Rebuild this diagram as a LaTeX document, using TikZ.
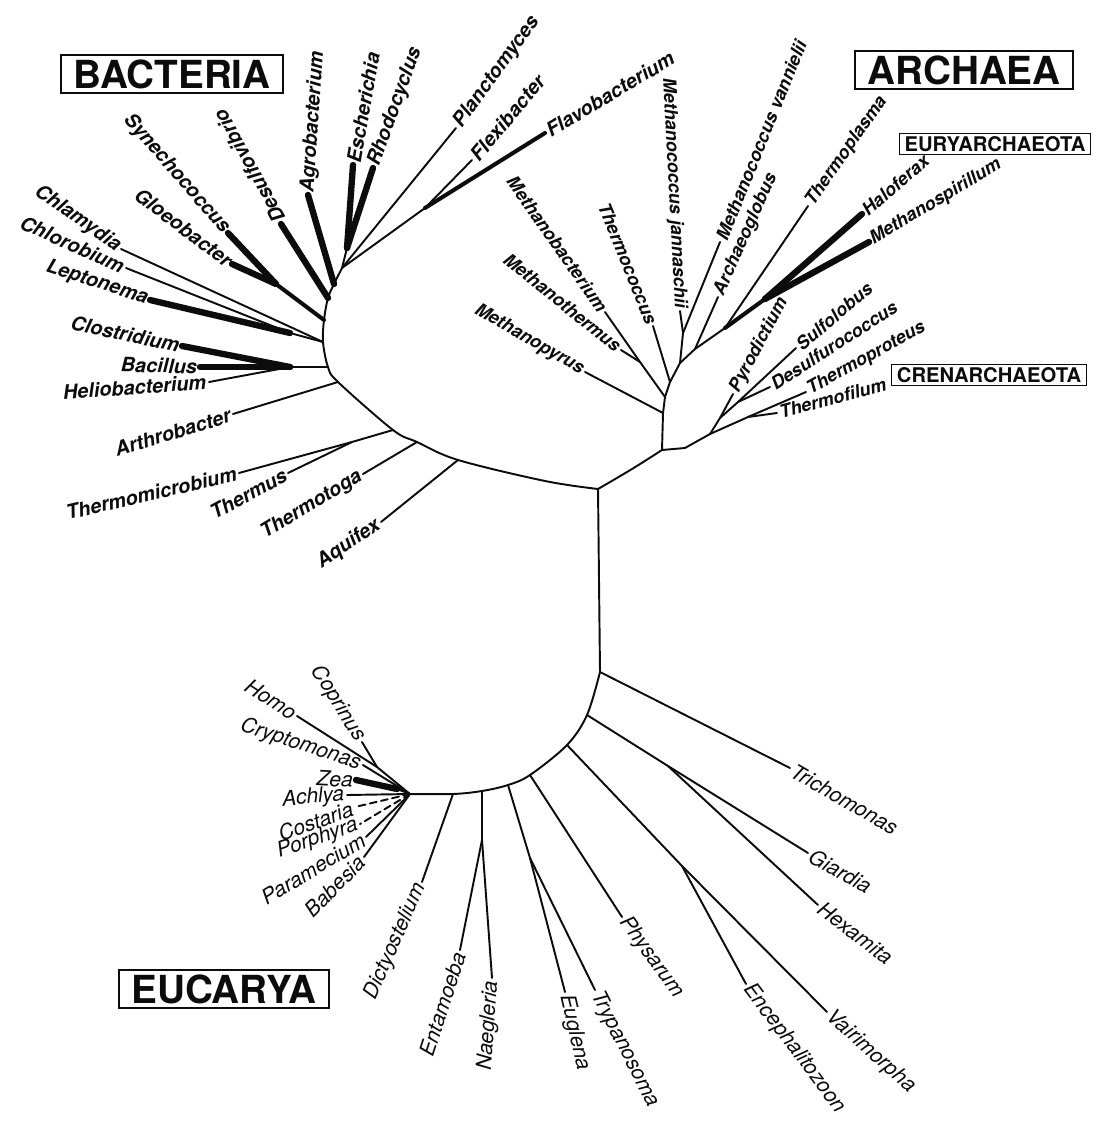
\documentclass[tikz,border=0pt]{standalone}
\usepackage{fontspec}
\setmainfont{TeX Gyre Heros}
\usepackage{xcolor}
\usepackage{tikz}
\definecolor{TreeInk}{RGB}{12, 12, 12}
\tikzset{
    branch/.style={draw=TreeInk, line width=1.1pt, line cap=round, line join=round},
    heavybranch/.style={branch, line width=3.6pt},
    midbranch/.style={branch, line width=2.3pt},
    brokenbranch/.style={branch, dash pattern=on 4pt off 2.5pt},
    taxon/.style={inner sep=1.5pt, text=TreeInk, font=\fontsize{11.3}{13}\selectfont\bfseries\itshape},
    archtaxon/.style={taxon, font=\fontsize{10.3}{12}\selectfont\bfseries\itshape},
    eutaxon/.style={inner sep=1.5pt, text=TreeInk, font=\fontsize{12}{14}\selectfont\itshape},
    domainbox/.style={draw=TreeInk, line width=0.9pt, inner xsep=7pt, inner ysep=2.5pt, text=TreeInk, font=\fontsize{22}{24}\selectfont\bfseries},
    cladebox/.style={draw=TreeInk, line width=0.8pt, inner xsep=3pt, inner ysep=1.5pt, text=TreeInk, font=\fontsize{11.5}{12}\selectfont\bfseries}
}

\begin{document}
\begin{tikzpicture}[x=0.2mm, y=-0.2mm]
    \path[use as bounding box] (0,0) rectangle (1099,1122);

    \coordinate (root) at (598,489);
    \coordinate (b0) at (545,481);
    \coordinate (b1) at (458,460);
    \coordinate (b2) at (417,442);
    \coordinate (b3) at (393,430);
    \coordinate (b4) at (338,382);
    \coordinate (b5) at (328,367);
    \coordinate (b6) at (323,342);
    \coordinate (b7) at (324,320);
    \coordinate (b8) at (328,298);
    \coordinate (b9) at (334,284);
    \coordinate (b10) at (342,268);
    \coordinate (bf) at (425,208);
    \coordinate (ber) at (347,248);
    \coordinate (bs) at (276,284);
    \coordinate (bl) at (290,333);
    \coordinate (bb) at (290,367);
    \coordinate (bt) at (352,442);

    \coordinate (t-plan) at (456,128);
    \coordinate (t-flex) at (472,160);
    \coordinate (t-flav) at (545,133);
    \coordinate (t-rho) at (373,168);
    \coordinate (t-esc) at (353,165);
    \coordinate (t-agr) at (308,195);
    \coordinate (t-des) at (281,224);
    \coordinate (t-syn) at (228,233);
    \coordinate (t-glo) at (232,264);
    \coordinate (t-chla) at (121,249);
    \coordinate (t-chlo) at (126,268);
    \coordinate (t-lep) at (150,300);
    \coordinate (t-clo) at (182,346);
    \coordinate (t-bac) at (200,367);
    \coordinate (t-hel) at (209,382);
    \coordinate (t-art) at (233,414);
    \coordinate (t-tmi) at (239,473);
    \coordinate (t-tms) at (288,473);
    \coordinate (t-tmt) at (363,474);
    \coordinate (t-aqu) at (381,522);

    \coordinate (ra) at (632,469);
    \coordinate (a0) at (662,450);
    \coordinate (a1) at (663,413);
    \coordinate (a2) at (665,397);
    \coordinate (a3) at (670,382);
    \coordinate (a4) at (680,363);
    \coordinate (aj) at (683,333);
    \coordinate (a5) at (695,349);
    \coordinate (a6) at (725,328);
    \coordinate (h) at (765,299);
    \coordinate (mbj) at (640,362);
    \coordinate (c1) at (685,448);
    \coordinate (c2) at (710,434);
    \coordinate (c3) at (720,418);
    \coordinate (d1) at (738,402);
    \coordinate (t1) at (748,417);

    \coordinate (t-mpy) at (585,372);
    \coordinate (t-mth) at (621,350);
    \coordinate (t-mba) at (605,312);
    \coordinate (t-tco) at (653,326);
    \coordinate (t-mja) at (680,311);
    \coordinate (t-mva) at (720,242);
    \coordinate (t-arg) at (718,297);
    \coordinate (t-tpl) at (808,206);
    \coordinate (t-hal) at (862,214);
    \coordinate (t-msp) at (869,242);
    \coordinate (t-pyr) at (733,394);
    \coordinate (t-sul) at (796,348);
    \coordinate (t-dsc) at (770,387);
    \coordinate (t-tpr) at (806,392);
    \coordinate (t-tfi) at (777,413);

    \coordinate (eb) at (600,672);
    \coordinate (e1) at (587,715);
    \coordinate (e2) at (567,745);
    \coordinate (e3) at (530,775);
    \coordinate (e4) at (508,785);
    \coordinate (e5) at (482,791);
    \coordinate (e6) at (453,794);
    \coordinate (e0) at (410,794);
    \coordinate (gj) at (668,766);
    \coordinate (vj) at (682,866);
    \coordinate (tj) at (530,858);
    \coordinate (nj) at (482,840);
    \coordinate (ch) at (377,767);
    \coordinate (zj) at (397,789);

    \coordinate (t-tri) at (790,768);
    \coordinate (t-gia) at (808,853);
    \coordinate (t-hex) at (818,905);
    \coordinate (t-vai) at (827,1012);
    \coordinate (t-enc) at (746,984);
    \coordinate (t-phy) at (622,917);
    \coordinate (t-try) at (595,990);
    \coordinate (t-eug) at (565,992);
    \coordinate (t-nae) at (492,978);
    \coordinate (t-ent) at (460,950);
    \coordinate (t-dic) at (422,882);
    \coordinate (t-hom) at (297,716);
    \coordinate (t-cop) at (362,742);
    \coordinate (t-cry) at (363,765);
    \coordinate (t-zea) at (356,780);
    \coordinate (t-ach) at (347,795);
    \coordinate (t-cos) at (355,807);
    \coordinate (t-por) at (360,824);
    \coordinate (t-par) at (366,837);
    \coordinate (t-bab) at (364,857);

    \node[domainbox] (bacteria) at (172,74) {BACTERIA};
    \node[domainbox] (archaea) at (964,70) {ARCHAEA};
    \node[domainbox] (eucarya) at (224,989) {EUCARYA};
    \node[cladebox] (eury) at (995,144) {EURYARCHAEOTA};
    \node[cladebox] (cren) at (989,375) {CRENARCHAEOTA};

    \draw[branch] plot[smooth, tension=0.55] coordinates {(b10) (b9) (b8) (b7) (b6) (b5) (b4) (b3) (b2) (b1) (b0) (root)};
    \draw[branch] plot[smooth, tension=0.6] coordinates {(root) (ra) (a0)};
    \draw[branch] (root) -- (eb);
    \draw[branch] plot[smooth, tension=0.55] coordinates {(eb) (e1) (e2) (e3) (e4) (e5) (e6) (e0)};

    \draw[branch] (b10) -- (t-plan);
    \draw[branch] (b10) -- (bf) -- (t-flex);
    \draw[midbranch] (bf) -- (t-flav);
    \draw[branch] (b10) -- (ber);
    \draw[heavybranch] (ber) -- (t-esc);
    \draw[heavybranch] (ber) -- (t-rho);
    \draw[heavybranch] (b9) -- (t-agr);
    \draw[heavybranch] (b8) -- (t-des);
    \draw[midbranch] (b7) -- (bs);
    \draw[heavybranch] (bs) -- (t-syn);
    \draw[heavybranch] (bs) -- (t-glo);
    \draw[branch] (b6) -- (t-chla);
    \draw[branch] (b6) -- (bl) -- (t-chlo);
    \draw[heavybranch] (bl) -- (t-lep);
    \draw[branch] (b5) -- (bb) -- (t-hel);
    \draw[heavybranch] (bb) -- (t-clo);
    \draw[heavybranch] (bb) -- (t-bac);
    \draw[branch] (b4) -- (t-art);
    \draw[branch] (b3) -- (bt) -- (t-tmi);
    \draw[branch] (bt) -- (t-tms);
    \draw[branch] (b2) -- (t-tmt);
    \draw[branch] (b1) -- (t-aqu);

    \draw[branch] (a0) -- (a1) -- (a2) -- (a3) -- (a4) -- (aj) -- (t-mva);
    \draw[branch] (a1) -- (t-mpy);
    \draw[branch] (a2) -- (mbj) -- (t-mba);
    \draw[branch] (mbj) -- (t-mth);
    \draw[branch] (a3) -- (t-tco);
    \draw[branch] (aj) -- (t-mja);
    \draw[branch] (a4) -- (a5) -- (a6);
    \draw[branch] (a5) -- (t-arg);
    \draw[branch] (a6) -- (t-tpl);
    \draw[midbranch] (a6) -- (h);
    \draw[heavybranch] (h) -- (t-hal);
    \draw[heavybranch] (h) -- (t-msp);
    \draw[branch] (a0) -- (c1) -- (c2) -- (c3) -- (t-pyr);
    \draw[branch] (c3) -- (d1) -- (t-sul);
    \draw[branch] (d1) -- (t-dsc);
    \draw[branch] (c2) -- (t1) -- (t-tpr);
    \draw[branch] (t1) -- (t-tfi);

    \draw[branch] (eb) -- (t-tri);
    \draw[branch] (e1) -- (gj) -- (t-gia);
    \draw[branch] (gj) -- (t-hex);
    \draw[branch] (e2) -- (vj) -- (t-vai);
    \draw[branch] (vj) -- (t-enc);
    \draw[branch] (e3) -- (t-phy);
    \draw[branch] (e4) -- (tj) -- (t-try);
    \draw[branch] (tj) -- (t-eug);
    \draw[branch] (e5) -- (nj) -- (t-nae);
    \draw[branch] (nj) -- (t-ent);
    \draw[branch] (e6) -- (t-dic);
    \draw[branch] (e0) -- (ch) -- (t-hom);
    \draw[branch] (ch) -- (t-cop);
    \draw[branch] (e0) -- (t-cry);
    \draw[branch] (e0) -- (zj);
    \draw[heavybranch] (zj) -- (t-zea);
    \draw[branch] (e0) -- (t-ach);
    \draw[brokenbranch] (e0) -- (t-cos);
    \draw[brokenbranch] (e0) -- (t-por);
    \draw[branch] (e0) -- (t-par);
    \draw[branch] (e0) -- (t-bab);

    \node[taxon, anchor=west, rotate=54] (plan) at (t-plan) {Planctomyces};
    \node[taxon, anchor=west, rotate=50] (flex) at (t-flex) {Flexibacter};
    \node[taxon, anchor=west, rotate=31] (flav) at (t-flav) {Flavobacterium};
    \node[taxon, anchor=west, rotate=70] (rho) at (t-rho) {Rhodocyclus};
    \node[taxon, anchor=west, rotate=80] (esc) at (t-esc) {Escherichia};
    \node[taxon, anchor=west, rotate=86] (agr) at (t-agr) {Agrobacterium};
    \node[taxon, anchor=west, rotate=119] (des) at (t-des) {Desulfovibrio};
    \node[taxon, anchor=east, rotate=-49] (syn) at (t-syn) {Synechococcus};
    \node[taxon, anchor=east, rotate=-37] (glo) at (t-glo) {Gloeobacter};
    \node[taxon, anchor=east, rotate=-35] (chla) at (t-chla) {Chlamydia};
    \node[taxon, anchor=east, rotate=-24] (chlo) at (t-chlo) {Chlorobium};
    \node[taxon, anchor=east, rotate=-18] (lep) at (t-lep) {Leptonema};
    \node[taxon, anchor=east, rotate=-12] (clo) at (t-clo) {Clostridium};
    \node[taxon, anchor=east, rotate=-2] (bac) at (t-bac) {Bacillus};
    \node[taxon, anchor=east, rotate=4] (hel) at (t-hel) {Heliobacterium};
    \node[taxon, anchor=east, rotate=17] (art) at (t-art) {Arthrobacter};
    \node[taxon, anchor=east, rotate=13] (tmi) at (t-tmi) {Thermomicrobium};
    \node[taxon, anchor=east, rotate=28] (tms) at (t-tms) {Thermus};
    \node[taxon, anchor=east, rotate=31] (tmt) at (t-tmt) {Thermotoga};
    \node[taxon, anchor=east, rotate=34] (aqu) at (t-aqu) {Aquifex};

    \node[archtaxon, anchor=east, rotate=-30] (mpy) at (t-mpy) {Methanopyrus};
    \node[archtaxon, anchor=east, rotate=-39] (mth) at (t-mth) {Methanothermus};
    \node[archtaxon, anchor=east, rotate=-55] (mba) at (t-mba) {Methanobacterium};
    \node[archtaxon, anchor=east, rotate=-68] (tco) at (t-tco) {Thermococcus};
    \node[archtaxon, anchor=east, rotate=-87] (mja) at (t-mja) {Methanococcus jannaschii};
    \node[archtaxon, anchor=west, rotate=68] (mva) at (t-mva) {Methanococcus vannielii};
    \node[archtaxon, anchor=west, rotate=66] (arg) at (t-arg) {Archaeoglobus};
    \node[archtaxon, anchor=west, rotate=55] (tpl) at (t-tpl) {Thermoplasma};
    \node[archtaxon, anchor=west, rotate=41] (hal) at (t-hal) {Haloferax};
    \node[archtaxon, anchor=west, rotate=31] (msp) at (t-msp) {Methanospirillum};
    \node[archtaxon, anchor=west, rotate=62] (pyr) at (t-pyr) {Pyrodictium};
    \node[archtaxon, anchor=west, rotate=40] (sul) at (t-sul) {Sulfolobus};
    \node[archtaxon, anchor=west, rotate=33] (dsc) at (t-dsc) {Desulfurococcus};
    \node[archtaxon, anchor=west, rotate=29] (tpr) at (t-tpr) {Thermoproteus};
    \node[archtaxon, anchor=west, rotate=15] (tfi) at (t-tfi) {Thermofilum};

    \node[eutaxon, anchor=west, rotate=-30] (tri) at (t-tri) {Trichomonas};
    \node[eutaxon, anchor=west, rotate=-29] (gia) at (t-gia) {Giardia};
    \node[eutaxon, anchor=west, rotate=-37] (hex) at (t-hex) {Hexamita};
    \node[eutaxon, anchor=west, rotate=-42] (vai) at (t-vai) {Vairimorpha};
    \node[eutaxon, anchor=west, rotate=-53] (enc) at (t-enc) {Encephalitozoon};
    \node[eutaxon, anchor=west, rotate=-54] (phy) at (t-phy) {Physarum};
    \node[eutaxon, anchor=west, rotate=-63] (try) at (t-try) {Trypanosoma};
    \node[eutaxon, anchor=west, rotate=-77] (eug) at (t-eug) {Euglena};
    \node[eutaxon, anchor=east, rotate=86] (nae) at (t-nae) {Naegleria};
    \node[eutaxon, anchor=east, rotate=72] (ent) at (t-ent) {Entamoeba};
    \node[eutaxon, anchor=east, rotate=66] (dic) at (t-dic) {Dictyostelium};
    \node[eutaxon, anchor=east, rotate=-33] (hom) at (t-hom) {Homo};
    \node[eutaxon, anchor=east, rotate=-58] (cop) at (t-cop) {Coprinus};
    \node[eutaxon, anchor=east, rotate=-18] (cry) at (t-cry) {Cryptomonas};
    \node[eutaxon, anchor=east, rotate=-3] (zea) at (t-zea) {Zea};
    \node[eutaxon, anchor=east, rotate=5] (ach) at (t-ach) {Achlya};
    \node[eutaxon, anchor=east, rotate=20] (cos) at (t-cos) {Costaria};
    \node[eutaxon, anchor=east, rotate=19] (por) at (t-por) {Porphyra};
    \node[eutaxon, anchor=east, rotate=31] (par) at (t-par) {Paramecium};
    \node[eutaxon, anchor=east, rotate=45] (bab) at (t-bab) {Babesia};
\end{tikzpicture}
\end{document}
